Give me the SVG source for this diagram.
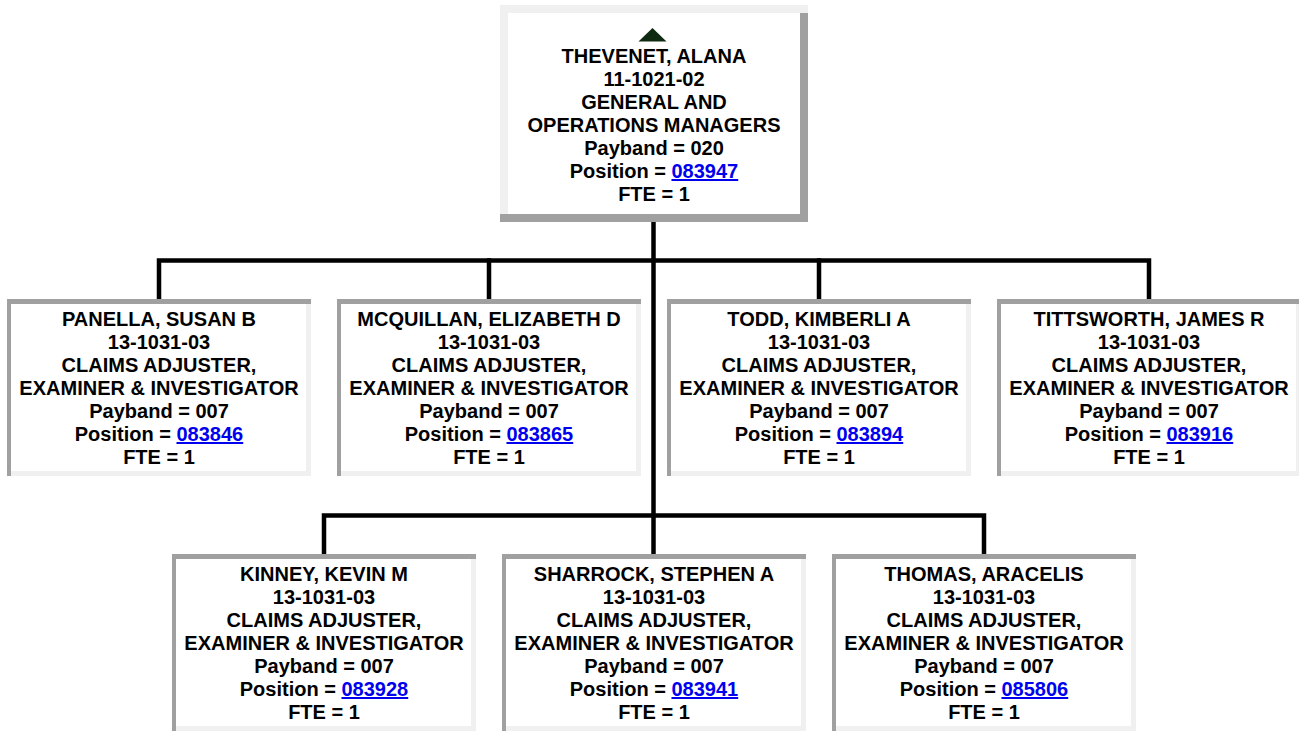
<svg xmlns="http://www.w3.org/2000/svg" width="1299" height="734" viewBox="0 0 1299 734">
<style>
.t{font-family:"Liberation Sans",Arial,Helvetica,sans-serif;font-weight:bold;font-size:20px;text-anchor:middle;fill:#000}
.lk{fill:#0000ee;text-decoration:underline}
.dk{fill:#a0a0a0}
.lt{fill:#f0f0f0}
.bg{fill:#fff}
.cn{fill:none;stroke:#000;stroke-width:4.5;stroke-linecap:square;stroke-linejoin:miter}
</style>
<rect width="1299" height="734" fill="#fff"/>
<g id="connectors">
<path class="cn" d="M653.5 222 V554"/>
<path class="cn" d="M159 299 V260.5 H1149 V299"/>
<path class="cn" d="M489 260.5 V299 M819 260.5 V299"/>
<path class="cn" d="M324 554 V515.5 H984 V554"/>
</g>
<g id="node-thevenet">
<rect class="bg" x="500" y="5" width="308" height="217"/>
<rect class="lt" x="500" y="5" width="308" height="8"/>
<rect class="lt" x="500" y="5" width="8" height="209"/>
<rect class="dk" x="800" y="13" width="8" height="209"/>
<rect class="dk" x="500" y="214" width="308" height="8"/>
<polygon points="652.5,28 638.5,41.5 666.5,41.5" fill="#0f2a10"/>
<text class="t" x="654" y="63">THEVENET, ALANA</text>
<text class="t" x="654" y="86">11-1021-02</text>
<text class="t" x="654" y="109">GENERAL AND</text>
<text class="t" x="654" y="132">OPERATIONS MANAGERS</text>
<text class="t" x="654" y="155">Payband = 020</text>
<text class="t" x="654" y="178">Position = <tspan class="lk">083947</tspan></text>
<text class="t" x="654" y="201">FTE = 1</text>
</g>
<defs>
<g id="frame">
<rect class="bg" x="0" y="0" width="304" height="177"/>
<rect class="dk" x="0" y="0" width="304" height="5"/>
<rect class="dk" x="0" y="0" width="4" height="177"/>
<rect class="lt" x="299" y="5" width="5" height="172"/>
<rect class="lt" x="4" y="172" width="300" height="5"/>
</g>
</defs>
<g id="node-panella">
<use href="#frame" x="7" y="299"/>
<text class="t" x="159" y="326">PANELLA, SUSAN B</text>
<text class="t" x="159" y="349">13-1031-03</text>
<text class="t" x="159" y="372">CLAIMS ADJUSTER,</text>
<text class="t" x="159" y="395">EXAMINER &amp; INVESTIGATOR</text>
<text class="t" x="159" y="418">Payband = 007</text>
<text class="t" x="159" y="441">Position = <tspan class="lk">083846</tspan></text>
<text class="t" x="159" y="464">FTE = 1</text>
</g>
<g id="node-mcquillan">
<use href="#frame" x="337" y="299"/>
<text class="t" x="489" y="326">MCQUILLAN, ELIZABETH D</text>
<text class="t" x="489" y="349">13-1031-03</text>
<text class="t" x="489" y="372">CLAIMS ADJUSTER,</text>
<text class="t" x="489" y="395">EXAMINER &amp; INVESTIGATOR</text>
<text class="t" x="489" y="418">Payband = 007</text>
<text class="t" x="489" y="441">Position = <tspan class="lk">083865</tspan></text>
<text class="t" x="489" y="464">FTE = 1</text>
</g>
<g id="node-todd">
<use href="#frame" x="667" y="299"/>
<text class="t" x="819" y="326">TODD, KIMBERLI A</text>
<text class="t" x="819" y="349">13-1031-03</text>
<text class="t" x="819" y="372">CLAIMS ADJUSTER,</text>
<text class="t" x="819" y="395">EXAMINER &amp; INVESTIGATOR</text>
<text class="t" x="819" y="418">Payband = 007</text>
<text class="t" x="819" y="441">Position = <tspan class="lk">083894</tspan></text>
<text class="t" x="819" y="464">FTE = 1</text>
</g>
<g id="node-tittsworth">
<use href="#frame" x="997" y="299"/>
<text class="t" x="1149" y="326">TITTSWORTH, JAMES R</text>
<text class="t" x="1149" y="349">13-1031-03</text>
<text class="t" x="1149" y="372">CLAIMS ADJUSTER,</text>
<text class="t" x="1149" y="395">EXAMINER &amp; INVESTIGATOR</text>
<text class="t" x="1149" y="418">Payband = 007</text>
<text class="t" x="1149" y="441">Position = <tspan class="lk">083916</tspan></text>
<text class="t" x="1149" y="464">FTE = 1</text>
</g>
<g id="node-kinney">
<use href="#frame" x="172" y="554"/>
<text class="t" x="324" y="581">KINNEY, KEVIN M</text>
<text class="t" x="324" y="604">13-1031-03</text>
<text class="t" x="324" y="627">CLAIMS ADJUSTER,</text>
<text class="t" x="324" y="650">EXAMINER &amp; INVESTIGATOR</text>
<text class="t" x="324" y="673">Payband = 007</text>
<text class="t" x="324" y="696">Position = <tspan class="lk">083928</tspan></text>
<text class="t" x="324" y="719">FTE = 1</text>
</g>
<g id="node-sharrock">
<use href="#frame" x="502" y="554"/>
<text class="t" x="654" y="581">SHARROCK, STEPHEN A</text>
<text class="t" x="654" y="604">13-1031-03</text>
<text class="t" x="654" y="627">CLAIMS ADJUSTER,</text>
<text class="t" x="654" y="650">EXAMINER &amp; INVESTIGATOR</text>
<text class="t" x="654" y="673">Payband = 007</text>
<text class="t" x="654" y="696">Position = <tspan class="lk">083941</tspan></text>
<text class="t" x="654" y="719">FTE = 1</text>
</g>
<g id="node-thomas">
<use href="#frame" x="832" y="554"/>
<text class="t" x="984" y="581">THOMAS, ARACELIS</text>
<text class="t" x="984" y="604">13-1031-03</text>
<text class="t" x="984" y="627">CLAIMS ADJUSTER,</text>
<text class="t" x="984" y="650">EXAMINER &amp; INVESTIGATOR</text>
<text class="t" x="984" y="673">Payband = 007</text>
<text class="t" x="984" y="696">Position = <tspan class="lk">085806</tspan></text>
<text class="t" x="984" y="719">FTE = 1</text>
</g>
</svg>
